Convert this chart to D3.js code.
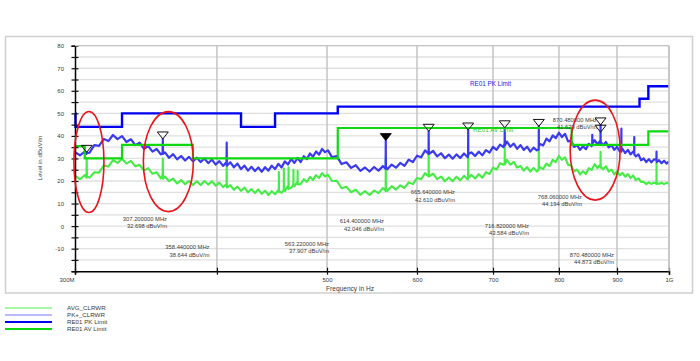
<!DOCTYPE html>
<html><head><meta charset="utf-8">
<script src="https://cdn.jsdelivr.net/npm/d3@7/dist/d3.min.js"></script>
<style>
html,body{margin:0;padding:0;background:#fff;}
svg{display:block;font-family:"Liberation Sans",Arial,sans-serif;}
</style></head><body>
<svg id="c" width="700" height="361"></svg>
<script>
// ---------------- DATA ----------------
// PK+ (peak) trace: [frequency MHz, level dBuV/m]
const pkTrace = [
[300,32.8],[303,31.4],[306,33.0],[307.05,32.0],[307.2,32.7],[307.35,32.3],[309,32.6],[312,35.9],[315,35.6],[318,38.6],[321,37.7],[324,40.4],[327,38.6],[330,39.9],[333,37.3],[336,38.5],[339,35.9],[342,37.0],[345,34.3],[348,35.5],[351,33.0],[354,34.2],[357,31.8],
[358.3,32.4],[358.44,38.64],[358.6,32.0],[360,32.7],[363,30.3],[366,31.9],[369,29.6],[372,31.1],[375,29.1],[378,30.7],[381,28.7],[384,30.3],[387,28.4],[390,30.0],[393,27.9],[396,29.5],[399,27.3],[402,28.8],[405,26.7],
[407.85,28.4],[408,37.0],[408.15,26.8],[411,28.3],[414,26.1],[417,27.7],[420,25.3],[423,26.8],[426,24.6],[429,26.3],[432,24.4],[435,26.0],[438,24.1],[441,26.1],[444,24.6],[447,26.8],[450,25.3],[453,27.6],[456,26.0],[459,28.7],[462,27.3],[465,29.8],[468,28.0],[471,30.2],[474,28.4],[477,31.0],[480,29.7],[483,32.2],[486,30.8],[489,33.1],[492,31.7],[495,34.2],[498,32.8],[501,33.6],
[505,30.6],[510,31.0],[515,27.5],[520,28.3],[525,25.8],[530,27.0],[535,24.5],[540,26.0],[545,24.2],[550,26.2],[555,24.6],[560,26.6],[563.05,25.4],[563.22,37.91],[563.4,26.3],[565,25.2],[570,27.3],[575,25.9],[580,28.0],[585,26.7],[590,29.5],[595,28.4],[600,31.2],[605,30.5],[610,33.6],
[614.25,32.0],[614.4,42.05],[614.55,33.5],[615,32.1],[620,33.3],[625,30.9],[630,32.3],[635,30.1],[640,31.7],[645,29.9],[650,31.8],[655,30.2],[660,32.2],[665,30.5],[665.5,31.3],[665.64,42.61],[665.8,31.9],
[670,32.7],[675,31.1],[680,33.0],[685,31.4],[690,33.7],[695,32.6],[700,35.1],[705,33.8],[710,36.1],[715,35.0],[716.65,36.8],[716.82,43.58],[717,35.8],[720,37.5],[725,35.2],[730,36.6],[735,34.3],[740,35.9],[745,33.8],[750,35.2],[755,33.0],[760,34.8],[765,33.6],
[767.9,34.0],[768.06,44.19],[768.2,35.4],[770,36.4],[775,35.8],[780,38.8],[785,37.6],[790,40.2],[795,39.0],[800,41.4],[805,39.5],[810,40.9],[815,37.6],[820,37.9],[825,35.1],[830,35.9],[835,33.8],[840,35.4],[845,34.1],[850,36.5],[855,35.5],
[855.85,36.0],[856,40.5],[856.15,36.6],[860,38.1],[865,36.3],[870,37.9],[870.3,36.4],[870.48,44.87],[870.65,37.4],[875,35.9],[880,37.3],[885,34.9],[890,35.9],[895,33.8],[900,35.2],[905,33.1],
[907.85,33.0],[908,43.2],[908.15,34.2],[910,34.3],[915,32.4],[920,33.8],[925,31.8],[930,33.1],[931.85,32.6],[932,39.5],[932.15,31.8],[935,30.9],[940,31.8],[945,29.2],[950,30.0],[955,28.4],[960,29.7],[965,28.3],[970,29.6],
[974.85,29.4],[975,33.0],[975.15,28.4],[980,29.2],[985,27.9],[990,29.0],[995,27.7],[1000,28.8]
];

// AVG trace: [frequency MHz, level dBuV/m]
const avgTrace = [
[300,22.3],[303,20.8],[306,22.6],[307.05,21.5],[307.2,30.0],[307.35,22.0],[309,21.5],[312,23.9],[315,23.7],[318,26.9],[321,26.4],[324,29.3],[327,28.0],[330,29.9],[333,27.7],[336,28.9],[339,26.5],[342,27.2],[345,24.6],[348,25.7],[351,23.2],[354,23.9],[357,21.2],
[358.3,22.6],[358.44,30.0],[358.6,21.0],[360,22.0],[363,19.9],[366,21.1],[369,18.9],[372,20.4],[375,18.6],[378,20.0],[381,18.2],[384,19.9],[387,18.2],[390,20.0],[393,18.4],[396,19.9],[399,17.9],[402,19.3],[405,17.3],
[407.85,18.6],[408,27.0],[408.15,17.1],[411,18.2],[414,16.1],[417,17.5],[420,15.6],[423,17.1],[426,15.0],[429,16.4],[432,14.7],[435,16.3],[438,14.3],[441,15.7],[444,13.8],[447,15.5],[450,14.1],[453,16.1],
[453.4,15.2],[453.5,24.0],[453.6,15.4],[456,14.8],[458,15.9],[458.1,25.5],[458.2,16.0],[459,15.5],[462,17.9],[462.4,16.5],[462.5,26.0],[462.6,16.6],[465,17.0],[467,18.4],[467.1,25.0],[467.2,18.0],[468,17.6],[471,19.8],[471.1,24.5],[471.2,18.5],
[474,18.6],[477,20.8],[480,19.6],[483,21.8],[486,20.5],[489,22.6],[492,21.3],[495,23.5],[498,22.0],[501,22.8],
[505,20.0],[510,20.1],[515,16.8],[520,17.5],[525,15.0],[530,16.1],[535,13.9],[540,15.5],[545,13.8],[550,15.8],[555,14.6],[560,16.9],[563.05,15.6],[563.22,30.0],[563.4,16.8],[565,15.6],[570,17.7],[575,16.2],[580,18.1],[585,16.9],[590,19.4],[595,18.6],[600,21.3],[605,20.8],[610,23.5],
[614.25,22.0],[614.4,33.0],[614.55,23.2],[615,22.1],[620,23.3],[625,20.8],[630,22.0],[635,19.9],[640,21.6],[645,19.9],[650,21.9],[655,20.3],[660,22.3],[665,20.7],[665.5,21.8],[665.64,32.0],[665.8,21.4],
[670,22.7],[675,21.1],[680,23.0],[685,21.4],[690,23.9],[695,23.1],[700,25.9],[705,25.1],[710,27.9],[715,27.2],[716.65,28.0],[716.82,35.0],[717,27.3],[720,29.4],[725,27.2],[730,28.5],[735,25.9],[740,26.7],[745,24.6],[750,26.2],[755,24.2],[760,25.8],[765,24.2],
[767.9,25.0],[768.06,34.0],[768.2,25.6],[770,26.1],[775,25.3],[780,27.7],[785,26.6],[790,29.4],[795,28.4],[800,31.1],[805,29.4],[810,30.5],[815,27.2],[820,26.9],[825,24.3],[830,25.1],[835,22.9],[840,24.3],[845,23.1],[850,25.7],[855,24.9],[860,27.5],[865,25.7],
[870,27.3],[870.3,25.9],[870.48,33.0],[870.65,26.6],[875,25.2],[880,26.5],[885,24.2],[890,25.1],[895,22.9],[900,24.3],[905,22.5],[910,23.6],[915,21.9],[920,23.1],[925,21.3],[930,22.4],[935,20.4],[940,21.2],[945,19.6],[950,19.6],[955,18.6],[960,19.4],[965,18.7],[970,19.3],
[974.85,18.7],[975,28.0],[975.15,19.2],[980,18.7],[985,19.3],[990,18.6],[995,19.2],[1000,18.8]
];

// Limit lines (step after)
const pkLimitFreq  = [300, 300.3, 330, 420, 450, 511, 942, 959, 1000];
const pkLimitLevel = [50, 44, 50, 44, 50, 53, 56.5, 62, 62];
const avLimitFreq  = [300, 306, 330, 381, 511, 821, 959, 1000];
const avLimitLevel = [35.5, 30, 36, 30, 43.5, 36, 42, 42];

// Markers
const markerFreq  = [307.2, 358.44, 563.22, 614.4, 665.64, 716.82, 768.06, 870.48, 870.48];
const markerLevel = [32.698, 38.644, 37.907, 42.046, 42.610, 43.584, 44.194, 44.873, 41.629];
const markerFilled = [false, false, true, false, false, false, false, false, false];

// Highlight ellipses (centre in data units)
const ellipseFreq  = [308.6, 362.5, 861];
const ellipseLevel = [28.4, 28.6, 33.7];

// Axis ticks
const yTickValues = [80, 70, 60, 50, 40, 30, 20, 10, 0, -10];
const yTickLabels = ["80", "70", "60", "50", "40", "30", "20", "10", "0", "-10"];
const xTickValues = [300, 400, 500, 600, 700, 800, 900, 1000];
const xTickLabels = ["300M", "", "500", "600", "700", "800", "900", "1G"];

const legendLabels = ["AVG_CLRWR", "PK+_CLRWR", "RE01 PK Limit", "RE01 AV Limit"];

// ---------------- LAYOUT ----------------
const L = 75, R = 669, T = 45.7, B = 271.2;
const labelAnchors = [[167,220.5],[209.5,249],[329,245.5],[384,223],[455,194],[529,227.5],[582,198.5],[614,256.5],[597,121.5]];
const ellipseR = [[15,50.5],[25,50],[25,50]];
const C = {
  pk: "#3a3af2", avg: "#45ec45", pkLim: "#0000f0", avLim: "#0ed80e",
  legAvg: "#86f986", legPk: "#a3a3ff", grid: "#e0e0e0", vgrid: "#c4c4c4", text: "#3a3a3a"
};

const svg = d3.select("#c");
const x = d3.scaleLog().domain([300, 1000]).range([L, R]);
const y = d3.scaleLinear().domain([-20, 80]).range([B, T]);

// outer frame
svg.append("rect").attr("x", 5.5).attr("y", 36.5).attr("width", 687).attr("height", 256.5)
  .attr("fill", "none").attr("stroke", "#cfcfcf").attr("stroke-width", 1.5);

// horizontal grid every 5 dB
const hGrid = d3.range(-15, 81, 5);
svg.append("g").selectAll("line").data(hGrid).join("line")
  .attr("x1", L).attr("x2", R).attr("y1", d => y(d)).attr("y2", d => y(d))
  .attr("stroke", C.grid).attr("stroke-width", 1.3);
// vertical grid
svg.append("g").selectAll("line").data(xTickValues.slice(1)).join("line")
  .attr("x1", d => x(d)).attr("x2", d => x(d)).attr("y1", T).attr("y2", B)
  .attr("stroke", C.vgrid).attr("stroke-width", 1.5);

// traces
const line = d3.line().x(d => x(d[0])).y(d => y(d[1]));
svg.append("path").datum(avgTrace).attr("d", line).attr("fill", "none")
  .attr("stroke", C.avg).attr("stroke-width", 2.1).attr("stroke-linejoin", "round");
svg.append("path").datum(pkTrace).attr("d", line).attr("fill", "none")
  .attr("stroke", C.pk).attr("stroke-width", 2.2).attr("stroke-linejoin", "round");

// limits
const stepLine = d3.line().curve(d3.curveStepAfter).x(d => x(d[0])).y(d => y(d[1]));
svg.append("path").datum(pkLimitFreq.map((f, i) => [f, pkLimitLevel[i]])).attr("d", stepLine)
  .attr("fill", "none").attr("stroke", C.pkLim).attr("stroke-width", 2.4);
svg.append("path").datum(avLimitFreq.map((f, i) => [f, avLimitLevel[i]])).attr("d", stepLine)
  .attr("fill", "none").attr("stroke", C.avLim).attr("stroke-width", 2.2);

// limit labels
svg.append("text").attr("x", 470).attr("y", 85.5).attr("fill", "#2020f0")
  .attr("font-size", 6.3).text("RE01 PK Limit");
svg.append("text").attr("x", 473).attr("y", 131.5).attr("fill", "#22d022")
  .attr("font-size", 6.3).text("RE01 AV Limit");

// axes
const yAxis = d3.axisLeft(y).tickValues(d3.range(-20, 81, 5)).tickSize(3.5)
  .tickFormat(d => { const i = yTickValues.indexOf(d); return i >= 0 ? yTickLabels[i] : ""; });
const gy = svg.append("g").attr("transform", `translate(${L},0)`).call(yAxis);
gy.select(".domain").attr("stroke", "#000").attr("stroke-width", 1.5);
gy.selectAll(".tick line").attr("x1", -3.5).attr("x2", 3.5).attr("stroke", "#111").attr("stroke-width", 1.2);
gy.selectAll(".tick text").attr("x", -11).attr("fill", C.text).attr("font-size", 6)
  .attr("font-family", "Liberation Sans, Arial, sans-serif");

const xAxis = d3.axisBottom(x).tickValues(xTickValues).tickSize(3.5)
  .tickFormat(d => xTickLabels[xTickValues.indexOf(d)]);
const gx = svg.append("g").attr("transform", `translate(0,${B})`).call(xAxis);
gx.select(".domain").attr("stroke", "#000").attr("stroke-width", 1.5);
gx.selectAll(".tick line").attr("y1", -3.5).attr("y2", 3.5).attr("stroke", "#111").attr("stroke-width", 1.2);
gx.selectAll(".tick text").attr("y", 6.5).attr("fill", C.text).attr("font-size", 6)
  .attr("font-family", "Liberation Sans, Arial, sans-serif")
  .attr("text-anchor", d => d === 300 ? "end" : "middle")
  .attr("dx", d => d === 300 ? -1 : 0);

// plot border (top, right)
svg.append("line").attr("x1", L).attr("x2", R).attr("y1", T).attr("y2", T).attr("stroke", C.vgrid).attr("stroke-width", 1.3);
svg.append("line").attr("x1", R).attr("x2", R).attr("y1", T).attr("y2", B).attr("stroke", C.vgrid).attr("stroke-width", 1.5);

// axis titles
svg.append("text").attr("transform", "translate(42,158) rotate(-90)").attr("text-anchor", "middle")
  .attr("font-size", 6.2).attr("fill", C.text).text("Level in dBuV/m");
svg.append("text").attr("x", 326).attr("y", 290.5).attr("font-size", 6.6).attr("fill", C.text).text("Frequency in Hz");

// markers
const mk = svg.append("g");
markerFreq.forEach((f, i) => {
  const px = x(f), py = y(markerLevel[i]);
  mk.append("path").attr("d", `M${px - 5.5},${py - 7}L${px + 5.5},${py - 7}L${px},${py}Z`)
    .attr("fill", markerFilled[i] ? "#000" : "none").attr("stroke", "#111").attr("stroke-width", 1);
  const a = labelAnchors[i];
  const t = mk.append("text").attr("font-size", 5.8).attr("fill", C.text).attr("text-anchor", "end");
  t.append("tspan").attr("x", a[0]).attr("y", a[1]).text(`${f.toFixed(6)} MHz`);
  t.append("tspan").attr("x", a[0]).attr("y", a[1] + 7.7).text(`${markerLevel[i].toFixed(3)} dBuV/m`);
});

// red ellipses
ellipseFreq.forEach((f, i) => {
  svg.append("ellipse").attr("cx", x(f)).attr("cy", y(ellipseLevel[i]))
    .attr("rx", ellipseR[i][0]).attr("ry", ellipseR[i][1])
    .attr("fill", "none").attr("stroke", "#e8161b").attr("stroke-width", 1.6);
});

// legend
const legColors = [C.legAvg, C.legPk, C.pkLim, C.avLim];
const legWidths = [1.6, 1.6, 2.2, 2.2];
legendLabels.forEach((lab, i) => {
  const ly = 308 + i * 7;
  svg.append("line").attr("x1", 5).attr("x2", 52).attr("y1", ly).attr("y2", ly)
    .attr("stroke", legColors[i]).attr("stroke-width", legWidths[i]);
  svg.append("text").attr("x", 67).attr("y", ly + 2.3).attr("font-size", 6.2).attr("fill", C.text).text(lab);
});
</script>
</body></html>
